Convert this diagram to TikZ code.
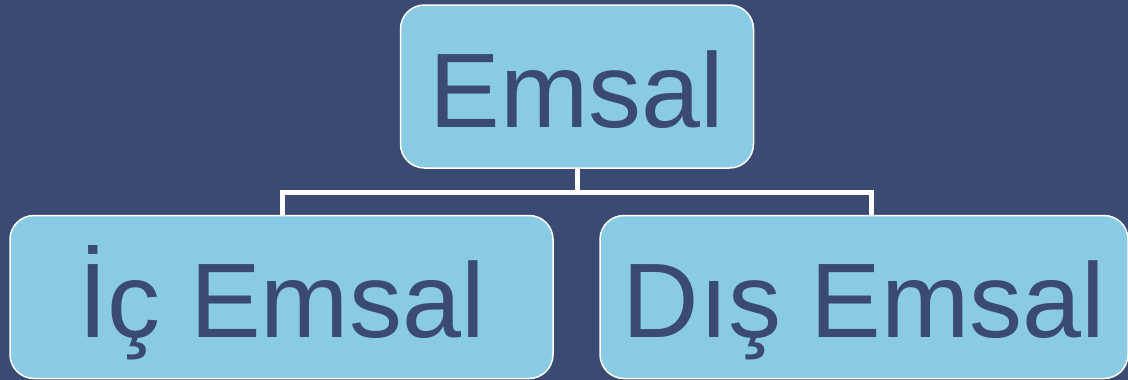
\documentclass[tikz,border=0pt]{standalone}
\usepackage{fontspec}
\setmainfont{Liberation Sans}
\definecolor{bg}{HTML}{3B4A72}
\definecolor{boxfill}{HTML}{89CAE5}
\begin{document}
\begin{tikzpicture}[x=1pt,y=-1pt,
  box/.style={draw=white,line width=1.5pt,fill=boxfill,rounded corners=24pt,text=bg,
    font=\fontsize{106}{120}\selectfont,inner sep=0pt,text height=81pt,text depth=0pt},
  conn/.style={draw=white,line width=5pt}]
\fill[bg] (0,0) rectangle (1128,380);
\useasboundingbox (0,0) rectangle (1128,380);
\node[box,minimum width=353pt,minimum height=163pt] (top) at (577,86.5) {Emsal};
\node[box,minimum width=543pt,minimum height=163pt] (left) at (281.5,297) {İç Emsal};
\node[box,minimum width=528pt,minimum height=163pt] (right) at (864,297) {Dış Emsal};
\coordinate (j) at (577,192);
\draw[conn] (top.south) -- (j);
\draw[conn] (left.north -| 282,0) |- (j) -| (right.north -| 871,0);
\end{tikzpicture}
\end{document}
